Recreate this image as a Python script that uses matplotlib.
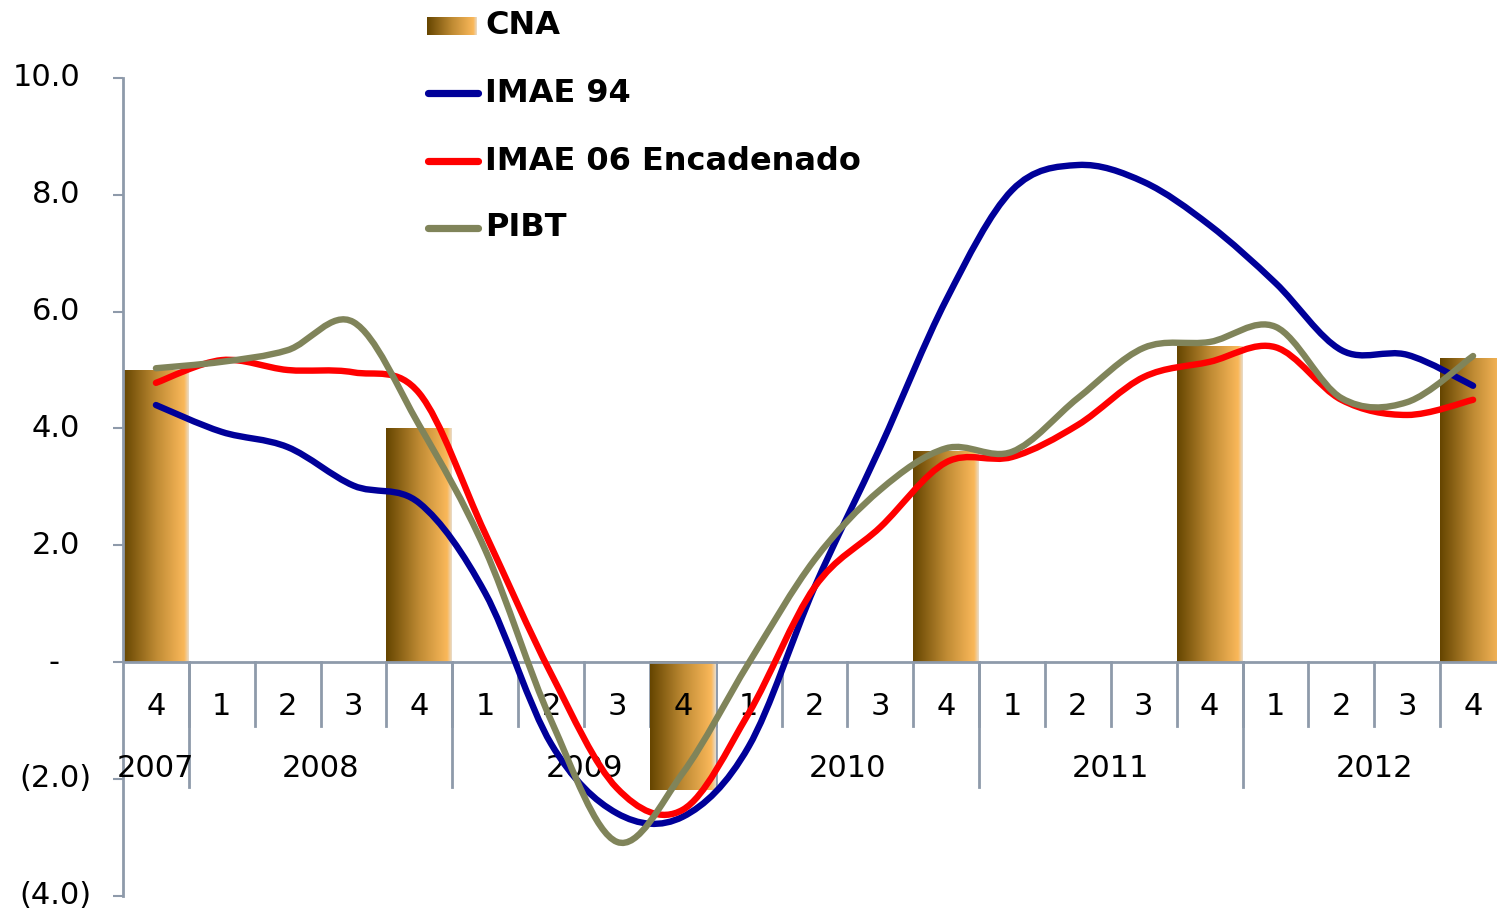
import numpy as np
import matplotlib
matplotlib.use('Agg')
import matplotlib.pyplot as plt
from matplotlib.path import Path
from matplotlib.patches import PathPatch
from matplotlib.lines import Line2D
from matplotlib.colors import LinearSegmentedColormap

# datos trimestrales 2007T4 - 2012T4
years = ['2007'] + ['2008'] * 4 + ['2009'] * 4 + ['2010'] * 4 + ['2011'] * 4 + ['2012'] * 4
quarters = ['4'] + ['1', '2', '3', '4'] * 5

cna = [5.0, np.nan, np.nan, np.nan, 4.0, np.nan, np.nan, np.nan, -2.2, np.nan, np.nan,
       np.nan, 3.6, np.nan, np.nan, np.nan, 5.4, np.nan, np.nan, np.nan, 5.2]
imae94 = [4.40, 3.94, 3.68, 3.02, 2.72, 1.18, -1.40, -2.59, -2.65, -1.45, 1.28,
          3.68, 6.20, 8.08, 8.51, 8.22, 7.48, 6.49, 5.34, 5.26, 4.73]
imae06 = [4.78, 5.17, 5.00, 4.96, 4.60, 2.20, -0.20, -2.16, -2.53, -0.88, 1.28,
          2.31, 3.42, 3.51, 4.06, 4.88, 5.14, 5.39, 4.49, 4.23, 4.49]
pibt = [5.03, 5.14, 5.34, 5.82, 4.05, 1.92, -1.00, -3.08, -1.90, -0.02, 1.75,
        2.95, 3.66, 3.60, 4.52, 5.38, 5.48, 5.74, 4.52, 4.45, 5.24]

yticks = [-4, -2, 0, 2, 4, 6, 8, 10]

AXCOL = '#8E9AAA'
cmap = LinearSegmentedColormap.from_list(
    'cna', [(0, '#654500'), (0.5, '#BE8A33'), (0.93, '#FAB85A'), (1, '#E8DCCB')])


def smooth_path(x, y):
    # curva tipo "linea suavizada" de Excel (bezier catmull-rom)
    n = len(x)
    verts = [(x[0], y[0])]
    codes = [Path.MOVETO]
    for i in range(n - 1):
        a = i - 1 if i > 0 else i
        d = i + 2 if i + 2 < n else i + 1
        c1 = (x[i] + (x[i + 1] - x[a]) / 6, y[i] + (y[i + 1] - y[a]) / 6)
        c2 = (x[i + 1] - (x[d] - x[i]) / 6, y[i + 1] - (y[d] - y[i]) / 6)
        verts += [c1, c2, (x[i + 1], y[i + 1])]
        codes += [Path.CURVE4] * 3
    return Path(verts, codes)


W, H = 1497, 918
fig = plt.figure(figsize=(W / 100, H / 100), dpi=100)
ax = fig.add_axes([123 / W, (H - 895.6) / H, 1383 / W, (895.6 - 78) / H])

x = np.arange(len(quarters))

# barras CNA con degradado
bars = ax.bar(x, cna, width=1.0, color='none', zorder=2)
grad = np.linspace(0, 1, 256).reshape(1, -1)
for r, v in zip(bars, cna):
    if np.isnan(v):
        continue
    x0, y0 = r.get_x(), r.get_y()
    ax.imshow(grad, cmap=cmap, extent=[x0, x0 + r.get_width(), y0, y0 + r.get_height()],
              aspect='auto', zorder=2, interpolation='bilinear')

# lineas suavizadas
series = [(imae94, '#000099'), (imae06, '#FF0000'), (pibt, '#80845A')]
for vals, col in series:
    p = PathPatch(smooth_path(x, np.array(vals)), fill=False, edgecolor=col, lw=4.6,
                  capstyle='round', joinstyle='round', zorder=5)
    ax.add_patch(p)

ax.set_xlim(-0.5, len(quarters) - 0.5)
ax.set_ylim(-4, 10)

# eje de categorias en y=0
ax.axhline(0, color=AXCOL, lw=2, zorder=3)
for i in range(1, len(quarters) + 1):
    ax.plot([i - 0.5, i - 0.5], [0, -1.10], color=AXCOL, lw=2, zorder=1.5, clip_on=False)
for i in range(1, len(quarters)):
    if years[i] != years[i - 1]:
        ax.plot([i - 0.5, i - 0.5], [0, -2.14], color=AXCOL, lw=2, zorder=1.5)

for i, q in enumerate(quarters):
    ax.text(i, -0.77, q, ha='center', va='center', fontsize=22, zorder=4)
for yr in dict.fromkeys(years):
    idx = [i for i, y in enumerate(years) if y == yr]
    ax.text(np.mean(idx), -1.82, yr, ha='center', va='center', fontsize=22, zorder=4)

# eje y
for s in ['top', 'right', 'bottom']:
    ax.spines[s].set_visible(False)
ax.spines['left'].set_color(AXCOL)
ax.spines['left'].set_linewidth(2)
ax.set_xticks([])
ax.set_yticks(yticks)
ax.set_yticklabels([''] * len(yticks))
ax.tick_params(axis='y', length=7.2, width=1.5, color=AXCOL)
for v in yticks:
    if v > 0:
        lab, dx, ha = '%.1f' % v, -43, 'right'
    elif v < 0:
        lab, dx, ha = '(%.1f)' % abs(v), -31, 'right'
    else:
        lab, dx, ha = '-', -69, 'center'
    ax.annotate(lab, xy=(0, v), xycoords=('axes fraction', 'data'), xytext=(dx, 0),
                textcoords='offset pixels', ha=ha, va='center', fontsize=22,
                annotation_clip=False)

# leyenda manual
rows = [26, 93, 161, 228]
names = ['CNA', 'IMAE 94', 'IMAE 06 Encadenado', 'PIBT']
lax = fig.add_axes([427 / W, (H - 35) / H, 50 / W, 18 / H])
lax.imshow(grad, cmap=cmap, aspect='auto', interpolation='bilinear')
lax.axis('off')
for (vals, col), yy in zip(series, rows[1:]):
    fig.add_artist(Line2D([428 / W, 478 / W], [1 - yy / H] * 2, color=col, lw=5.2,
                          solid_capstyle='round', transform=fig.transFigure))
for name, yy in zip(names, rows):
    fig.text(485 / W, 1 - yy / H, name, ha='left', va='center', fontsize=23,
             fontweight='bold')

fig.savefig('out.png', dpi=100)
